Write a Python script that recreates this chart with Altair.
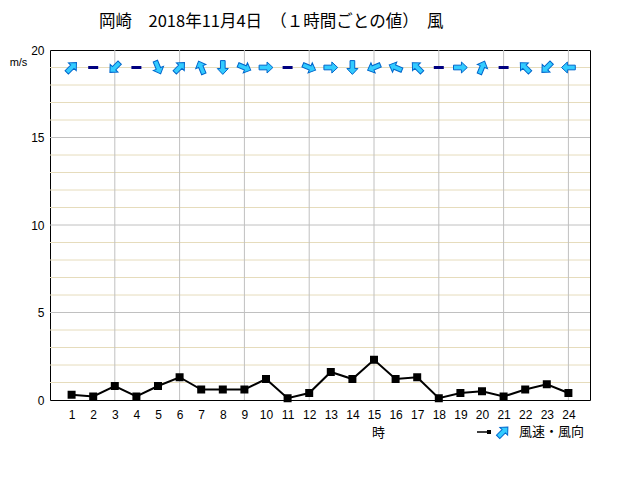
import altair as alt
import pandas as pd

# ---- data ----
hours = list(range(1, 25))
speed = [0.3, 0.2, 0.8, 0.2, 0.8, 1.3, 0.6, 0.6, 0.6, 1.2, 0.1, 0.4,
         1.6, 1.2, 2.3, 1.2, 1.3, 0.1, 0.4, 0.5, 0.2, 0.6, 0.9, 0.4]
wind_from = ["南西", "静穏", "北東", "静穏", "北北西", "南西", "南南東", "北",
             "西北西", "西", "静穏", "西北西", "西", "北", "東北東", "東南東",
             "南東", "静穏", "西", "南南西", "静穏", "南東", "北東", "東"]
dirs16 = ["北", "北北東", "北東", "東北東", "東", "東南東", "南東", "南南東",
          "南", "南南西", "南西", "西南西", "西", "西北西", "北西", "北北西"]
y_labels = [0, 5, 10, 15, 20]
y_major = [5, 10, 15]
y_minor = [1, 2, 3, 4, 6, 7, 8, 9, 11, 12, 13, 14, 16, 17, 18, 19]
x_grid = [3, 6, 9, 12, 15, 18, 21, 24]
arrow_row = 19
title_text = "岡崎　2018年11月4日　（１時間ごとの値）　風"
legend_text = "風速・風向"

# arrow points downwind (from-direction + 180)
to_angle = {name: (i * 22.5 + 180) % 360 for i, name in enumerate(dirs16)}

df = pd.DataFrame({"hour": hours, "speed": speed, "dir": wind_from})
df["row"] = arrow_row
arrows = df[df["dir"] != "静穏"].copy()
arrows["angle"] = arrows["dir"].map(to_angle)
calm = df[df["dir"] == "静穏"].copy()

W, H = 540, 350
XS = alt.Scale(domain=[0, 25], nice=False, zero=False)
YS = alt.Scale(domain=[0, 20], nice=False)

XAX = alt.Axis(
    values=hours, grid=False, ticks=False, domain=False, format="d",
    labelFontSize=12, labelPadding=9, labelFont="Liberation Sans",
    labelColor="black", title="時", titleFontSize=13, titleFontWeight="normal",
    titleFont="Noto Sans CJK JP", titleX=328, titleY=32, titleBaseline="middle",
    titleColor="black")
YAX = alt.Axis(
    values=y_labels, grid=False, ticks=False, domain=False, format="d",
    labelFontSize=12, labelPadding=6, labelFont="Liberation Sans",
    labelColor="black", title="m/s", titleAngle=0, titleFontSize=11,
    titleFontWeight="normal", titleFont="Liberation Sans", titleX=-32,
    titleY=12, titleAlign="center", titleBaseline="middle", titleColor="black")

ARROW = "M0,-1 L0.8,-0.15 L0.34,-0.15 L0.34,1 L-0.34,1 L-0.34,-0.15 L-0.8,-0.15 Z"
DASH = "M-1,-0.3 L1,-0.3 L1,0.3 L-1,0.3 Z"

minor = alt.Chart(pd.DataFrame({"v": y_minor})).mark_rule(
    color="#e6dcbc", strokeWidth=1).encode(y=alt.Y("v:Q", scale=YS, axis=YAX))
major = alt.Chart(pd.DataFrame({"v": y_major})).mark_rule(
    color="#c0c0c0", strokeWidth=1).encode(y=alt.Y("v:Q", scale=YS, axis=YAX))
vgrid = alt.Chart(pd.DataFrame({"v": x_grid})).mark_rule(
    color="#c0c0c0", strokeWidth=1).encode(x=alt.X("v:Q", scale=XS, axis=XAX))

base = alt.Chart(df)
line = base.mark_line(color="black", strokeWidth=2).encode(
    x=alt.X("hour:Q", scale=XS, axis=XAX),
    y=alt.Y("speed:Q", scale=YS, axis=YAX),
)
squares = base.mark_square(size=64, color="black", opacity=1).encode(
    x=alt.X("hour:Q", scale=XS, axis=XAX), y=alt.Y("speed:Q", scale=YS, axis=YAX))

arrow_marks = alt.Chart(arrows).mark_point(
    shape=ARROW, filled=True, fill="#33ccff", stroke="#0066cc", strokeWidth=1,
    size=190, opacity=1).encode(
    x=alt.X("hour:Q", scale=XS, axis=XAX), y=alt.Y("row:Q", scale=YS, axis=YAX),
    angle=alt.Angle("angle:Q", scale=None))
calm_marks = alt.Chart(calm).mark_point(
    shape=DASH, filled=True, color="#000080", size=100, opacity=1).encode(
    x=alt.X("hour:Q", scale=XS, axis=XAX), y=alt.Y("row:Q", scale=YS, axis=YAX))

title = alt.Chart(pd.DataFrame({"t": [title_text]})).mark_text(
    align="left", baseline="middle", fontSize=16.5, font="Noto Sans CJK JP",
    color="black").encode(x=alt.value(49), y=alt.value(-28), text="t:N")

leg_df = pd.DataFrame({"t": [legend_text], "a": [45]})
leg_line = alt.Chart(leg_df).mark_rule(color="black", strokeWidth=1.5).encode(
    x=alt.value(427), x2=alt.value(439), y=alt.value(382))
leg_sq = alt.Chart(leg_df).mark_square(size=16, color="black", opacity=1).encode(
    x=alt.value(439), y=alt.value(382))
leg_arrow = alt.Chart(leg_df).mark_point(
    shape=ARROW, filled=True, fill="#33ccff", stroke="#0066cc", strokeWidth=1,
    size=190, opacity=1).encode(x=alt.value(453), y=alt.value(382),
                                angle=alt.Angle("a:Q", scale=None))
leg_text = alt.Chart(leg_df).mark_text(
    align="left", baseline="middle", fontSize=13, font="Noto Sans CJK JP",
    color="black").encode(x=alt.value(469), y=alt.value(382), text="t:N")

chart = alt.layer(
    minor, major, vgrid, line, squares, arrow_marks, calm_marks,
    title, leg_line, leg_sq, leg_arrow, leg_text
).properties(
    width=W, height=H,
    autosize=alt.AutoSizeParams(type="none"),
    padding={"left": 42, "top": 42, "right": 42, "bottom": 72},
    background="white",
).configure_view(stroke="black", strokeWidth=1)

chart.save("out.html", embed_options={"renderer": "svg", "actions": False})
